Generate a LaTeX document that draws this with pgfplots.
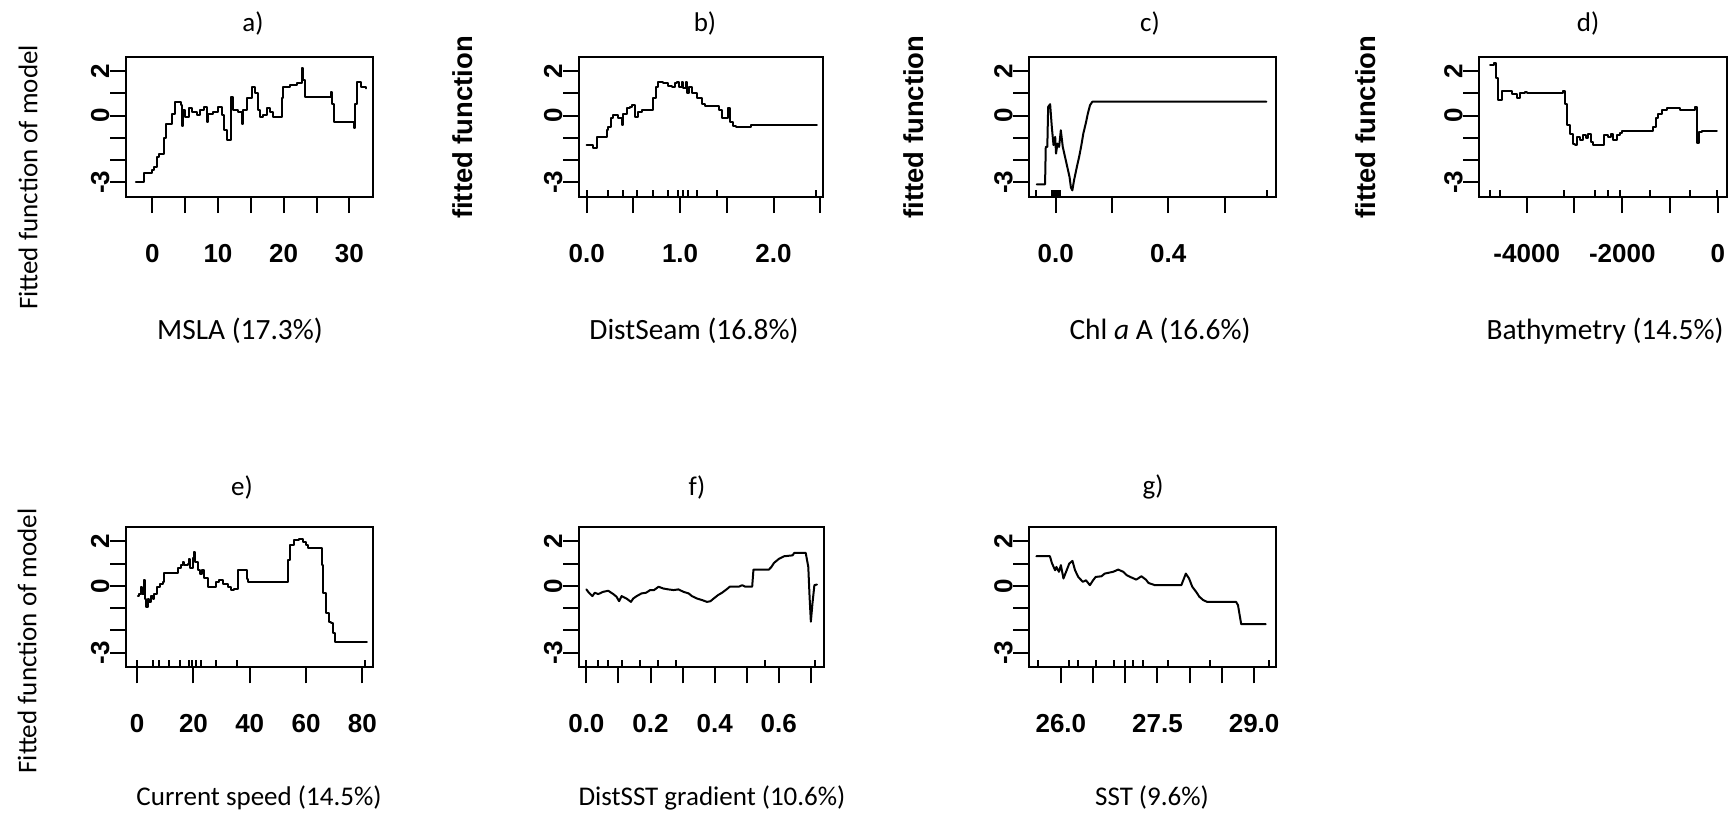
\documentclass[border=0pt]{standalone}
\usepackage{pgfplots}
\pgfplotsset{compat=1.18}
\usepackage{fontspec}
\setmainfont{Carlito}
\newfontfamily\rfont{Liberation Sans}
\newcommand\tickfont{\rfont\bfseries\fontsize{13}{13}\selectfont}
\newcommand\labfont{\fontsize{13.5}{14}\selectfont}
\newcommand\labfontA{\fontsize{14.7}{15}\selectfont}
\newcommand\ffont{\rfont\bfseries\fontsize{13.7}{14}\selectfont}
\pgfplotsset{
  rbox/.style={
    scale only axis, height=70pt,
    ymin=-3.66, ymax=2.63,
    ytick={-3,-2,-1,0,1,2}, yticklabels={-3,,,0,,2},
    tick align=outside, tick pos=left,
    major tick length=8pt,
    axis line style={line width=1pt},
    tick style={black, line width=1pt},
    tick label style={font=\tickfont, inner sep=0pt},
    yticklabel style={rotate=90, anchor=base},
    xticklabel style={anchor=base},
    xticklabel shift=24.5pt, yticklabel shift=0.5pt,
    extra x tick style={tick align=inside, major tick length=3.5pt},
    extra x tick labels={},
    clip=false,
  },
  curve/.style={black, line width=1pt, no markers, line join=round, line cap=round},
}
\begin{document}
\begin{tikzpicture}
\useasboundingbox (0,0) rectangle (866.5pt,408pt);
% a) MSLA
\begin{axis}[rbox, at={(63pt,309.5pt)}, anchor=south west, width=123.5pt,
  xmin=-4, xmax=33.6, xtick={0,5,10,15,20,25,30}, xticklabels={0,,10,,20,,30}]
\addplot[curve, const plot] coordinates {
(-2.49,-3.0) (-1.27,-2.58) (-0.10,-2.46) (0.25,-2.31) (0.66,-1.86) (1.07,-1.74)
(1.78,-0.99) (2.03,-0.36) (2.94,0.09) (3.45,0.62) (4.31,0.47) (4.47,-0.48)
(4.72,0.24) (4.97,-0.06) (5.58,0.32) (5.99,0.17) (6.75,0.02) (7.26,0.24)
(7.87,0.39) (8.27,-0.28) (8.53,0.09) (9.29,0.17) (10.05,0.39) (10.56,0.02)
(10.96,-0.66) (11.32,-1.08) (11.98,0.84) (12.34,0.24) (13.10,0.17) (13.60,-0.36)
(13.86,0.24) (14.47,0.77) (15.13,1.26) (15.63,1.0) (16.14,0.24) (16.40,-0.06)
(16.90,0.02) (17.41,0.32) (17.92,0.17) (18.43,-0.06) (19.70,0.77) (19.95,1.26)
(20.96,1.37) (21.98,1.47) (22.74,2.12) (23.0,1.59) (23.25,0.84) (27.16,1.07)
(27.41,0.54) (27.66,-0.28) (30.71,-0.58) (30.86,0.54) (31.12,1.52) (31.78,1.29)
(32.54,1.22)};
\end{axis}
% b) DistSeam
\begin{axis}[rbox, at={(289.5pt,309.5pt)}, anchor=south west, width=122pt,
  xmin=-0.082, xmax=2.53, xtick={0,0.5,1,1.5,2,2.5}, xticklabels={0.0,,1.0,,2.0,},
  extra x ticks={0.0,0.23,0.39,0.54,0.71,0.875,0.98,1.03,1.09,1.18,1.39,2.46}]
\addplot[curve, const plot] coordinates {
(0.0,-1.33) (0.071,-1.48) (0.107,-0.96) (0.214,-0.66) (0.232,-0.51) (0.257,-0.09)
(0.286,0.02) (0.339,-0.09) (0.375,-0.43) (0.393,0.09) (0.429,0.32) (0.464,0.39)
(0.489,0.47) (0.518,-0.06) (0.554,0.17) (0.589,0.24) (0.707,0.77) (0.743,1.26)
(0.768,1.52) (0.821,1.44) (0.875,1.32) (0.911,1.26) (0.946,1.44) (0.964,1.52)
(0.993,1.26) (1.018,1.52) (1.036,1.22) (1.064,1.52) (1.079,1.0) (1.1,1.26)
(1.125,1.0) (1.179,0.77) (1.232,0.54) (1.268,0.42) (1.421,0.24) (1.446,-0.13)
(1.511,0.32) (1.529,-0.28) (1.564,-0.48) (1.6,-0.51) (1.757,-0.43) (2.464,-0.43)};
\end{axis}
% c) Chl a A
\begin{axis}[rbox, at={(514.65pt,309.5pt)}, anchor=south west, width=123.35pt,
  xmin=-0.094, xmax=0.783, xtick={0,0.2,0.4,0.6}, xticklabels={0.0,,0.4,},
  extra x ticks={-0.069,-0.012,-0.005,0.002,0.008,0.015,0.75}]
\addplot[curve] coordinates {
(-0.0675,-3.09) (-0.038,-3.09) (-0.0355,-1.41) (-0.030,-1.41) (-0.027,0.39)
(-0.020,0.51) (-0.014,-0.51) (-0.008,-1.33) (-0.002,-0.96) (0.001,-1.71)
(0.006,-1.26) (0.012,-1.41) (0.018,-0.66) (0.025,-1.41) (0.033,-1.86)
(0.041,-2.31) (0.049,-2.76) (0.054,-3.24) (0.059,-3.36) (0.065,-2.91)
(0.075,-2.31) (0.083,-1.86) (0.09,-1.41) (0.098,-0.81) (0.108,-0.28)
(0.114,0.09) (0.122,0.47) (0.130,0.62) (0.749,0.62)};
\end{axis}
% d) Bathymetry
\begin{axis}[rbox, at={(739.65pt,309.5pt)}, anchor=south west, width=123.7pt,
  xmin=-4993, xmax=188, xtick={-4000,-3000,-2000,-1000,0}, xticklabels={-4000,,-2000,,0},
  extra x ticks={-4765,-4550,-3225,-2575,-2290,-2045,-1417,-580,-7}]
\addplot[curve, const plot] coordinates {
(-4768,2.27) (-4684,2.35) (-4642,1.67) (-4593,0.72) (-4524,1.11) (-4314,0.96)
(-4209,0.77) (-4140,1.0) (-4035,1.07) (-3986,1.0) (-3246,1.11) (-3197,0.54)
(-3148,-0.43) (-3093,-0.81) (-3037,-1.26) (-2988,-1.33) (-2953,-0.96) (-2883,-1.08)
(-2813,-0.88) (-2757,-1.03) (-2709,-0.81) (-2660,-1.18) (-2618,-1.33) (-2380,-0.88)
(-2290,-0.96) (-2241,-0.81) (-2185,-1.11) (-2115,-0.88) (-2045,-0.78) (-2010,-0.69)
(-1347,-0.51) (-1291,-0.13) (-1243,0.09) (-1173,0.27) (-1068,0.36) (-789,0.24)
(-475,0.39) (-426,-1.23) (-384,-0.73) (-335,-0.69) (-21,-0.69)};
\end{axis}
% e) Current speed
\begin{axis}[rbox, at={(63pt,74.35pt)}, anchor=south west, width=123.5pt,
  xmin=-3.98, xmax=83.8, xtick={0,20,40,60,80}, xticklabels={0,20,40,60,80},
  extra x ticks={0,5.47,7.57,11.27,15.3,18.3,19.65,20.9,22.5,28.0,35.4,80.8}]
\addplot[curve, const plot] coordinates {
(0.21,-0.46) (0.8,-0.37) (1.4,-0.04) (1.63,-0.37) (2.34,0.25) (2.81,-0.57)
(3.17,-0.94) (3.76,-0.57) (4.35,-0.72) (4.94,-0.46) (5.54,-0.57) (6.13,-0.37)
(7.07,-0.04) (8.26,0.10) (9.08,0.18) (9.67,0.58) (14.64,0.78) (15.59,0.93)
(16.18,1.07) (16.77,0.93) (17.95,1.0) (18.55,1.22) (18.9,0.78) (19.73,1.27)
(20.08,1.52) (20.67,1.07) (21.5,0.70) (22.45,0.55) (23.04,0.73) (23.87,0.37)
(25.05,-0.04) (28.01,0.18) (29.2,0.25) (30.38,0.10) (32.15,-0.04) (33.34,-0.19)
(34.52,-0.12) (35.7,0.73) (38.9,0.33) (39.5,0.18) (53.44,1.15) (54.39,1.82)
(55.81,2.04) (57.58,2.12) (58.76,1.97) (59.94,1.82) (60.53,1.72) (65.5,0.93)
(66.21,-0.34) (67.04,-1.24) (68.22,-1.61) (68.81,-1.69) (69.64,-2.13) (70.35,-2.51)
(81.59,-2.51)};
\end{axis}
% f) DistSST gradient
\begin{axis}[rbox, at={(289.5pt,74.35pt)}, anchor=south west, width=122.5pt,
  xmin=-0.023, xmax=0.741, xtick={0,0.1,0.2,0.3,0.4,0.5,0.6,0.7}, xticklabels={0.0,,0.2,,0.4,,0.6,},
  extra x ticks={0,0.035,0.067,0.11,0.166,0.223,0.279,0.558,0.713}]
\addplot[curve] coordinates {
(0,-0.16) (0.008,-0.31) (0.019,-0.46) (0.026,-0.31) (0.037,-0.37) (0.052,-0.27)
(0.068,-0.22) (0.084,-0.37) (0.094,-0.49) (0.102,-0.69) (0.110,-0.46) (0.125,-0.57)
(0.139,-0.72) (0.146,-0.57) (0.157,-0.46) (0.172,-0.34) (0.186,-0.31) (0.199,-0.19)
(0.211,-0.19) (0.225,-0.04) (0.240,-0.12) (0.256,-0.16) (0.272,-0.19) (0.287,-0.16)
(0.303,-0.27) (0.319,-0.34) (0.329,-0.46) (0.345,-0.57) (0.361,-0.64) (0.376,-0.72)
(0.387,-0.69) (0.397,-0.57) (0.410,-0.42) (0.423,-0.31) (0.437,-0.16) (0.447,-0.04)
(0.475,-0.04) (0.486,0.03) (0.496,-0.04) (0.517,-0.04) (0.521,0.73) (0.569,0.73)
(0.577,0.85) (0.585,1.03) (0.601,1.22) (0.617,1.33) (0.643,1.37) (0.648,1.48)
(0.684,1.48) (0.692,0.85) (0.696,-0.49) (0.700,-1.61) (0.705,-0.79) (0.711,0.03)
(0.719,0.06)};
\end{axis}
% g) SST
\begin{axis}[rbox, at={(514.65pt,74.35pt)}, anchor=south west, width=123.35pt,
  xmin=25.51, xmax=29.34, xtick={26,26.5,27,27.5,28,28.5,29}, xticklabels={26.0,,,27.5,,,29.0},
  extra x ticks={25.64,26.12,26.26,26.54,26.83,26.99,27.12,27.28,27.66,28.32,29.23}]
\addplot[curve] coordinates {
(25.62,1.33) (25.83,1.33) (25.86,1.03) (25.91,0.70) (25.93,0.85) (25.97,0.63)
(26.0,0.93) (26.04,0.33) (26.09,0.70) (26.13,1.0) (26.18,1.12) (26.22,0.70)
(26.27,0.40) (26.34,0.18) (26.39,0.25) (26.45,0.03) (26.50,0.25) (26.54,0.40)
(26.63,0.43) (26.68,0.55) (26.81,0.63) (26.89,0.73) (26.97,0.63) (27.02,0.48)
(27.10,0.37) (27.17,0.28) (27.25,0.43) (27.32,0.28) (27.36,0.13) (27.46,0.03)
(27.87,0.03) (27.94,0.55) (27.99,0.33) (28.04,-0.04) (28.10,-0.27) (28.15,-0.49)
(28.21,-0.64) (28.27,-0.72) (28.72,-0.72) (28.75,-0.87) (28.78,-1.39) (28.80,-1.72)
(29.18,-1.72)};
\end{axis}
% panel titles
\begin{scope}[every node/.style={font=\labfont, anchor=center, inner sep=0pt}]
\node at (126.5pt,396.5pt) {a)};
\node at (352.5pt,396.5pt) {b)};
\node at (575pt,396.5pt) {c)};
\node at (794pt,396.5pt) {d)};
\node at (121pt,164.5pt) {e)};
\node at (348.5pt,164.5pt) {f)};
\node at (576.5pt,164.5pt) {g)};
\end{scope}
% x axis labels
\begin{scope}[every node/.style={font=\labfontA, anchor=base, inner sep=0pt}]
\node at (120pt,238.5pt) {MSLA (17.3\%)};
\node at (347pt,238.5pt) {DistSeam (16.8\%)};
\node at (580pt,238.5pt) {Chl \textit{a} A (16.6\%)};
\node at (802.5pt,238.5pt) {Bathymetry (14.5\%)};
\end{scope}
\begin{scope}[every node/.style={font=\labfont, anchor=base, inner sep=0pt}]
\node at (129.5pt,5.5pt) {Current speed (14.5\%)};
\node at (356pt,5.5pt) {DistSST gradient (10.6\%)};
\node at (576pt,5.5pt) {SST (9.6\%)};
\end{scope}
% y axis labels
\begin{scope}[every node/.style={font=\labfont, anchor=center, inner sep=0pt, rotate=90}]
\node at (14pt,319.25pt) {Fitted function of model};
\node at (13.5pt,87.5pt) {Fitted function of model};
\end{scope}
\begin{scope}[every node/.style={font=\ffont, anchor=center, inner sep=0pt, rotate=90}]
\node at (231.5pt,344.25pt) {fitted function};
\node at (457pt,344.5pt) {fitted function};
\node at (683pt,344.5pt) {fitted function};
\end{scope}
\end{tikzpicture}
\end{document}
